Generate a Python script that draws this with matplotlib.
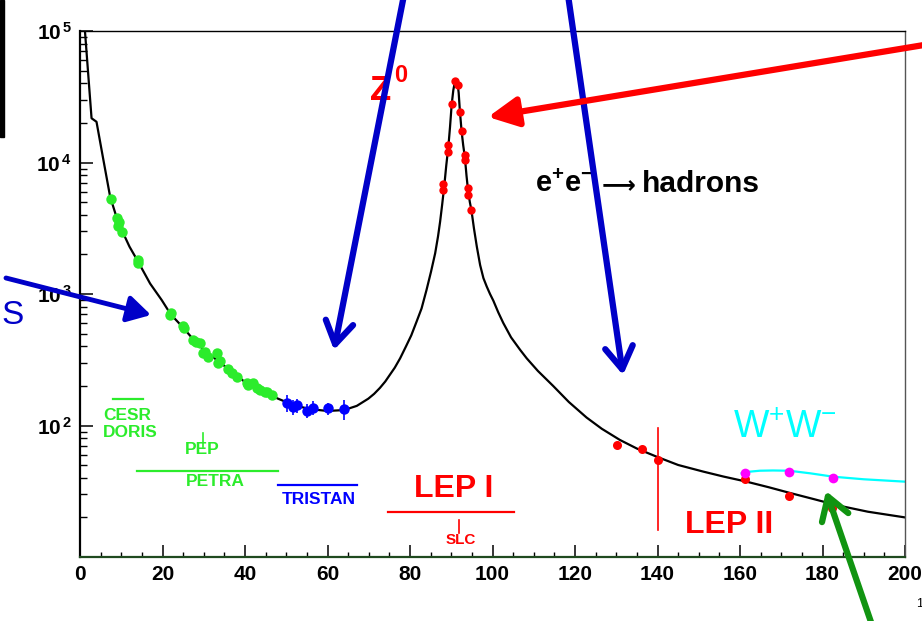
import numpy as np
import matplotlib
matplotlib.use("Agg")
import matplotlib.pyplot as plt
from matplotlib.ticker import FixedLocator, FixedFormatter, MultipleLocator, LogLocator, NullFormatter
from matplotlib.patches import Rectangle, FancyArrowPatch

plt.rcParams['font.family'] = ['Liberation Sans', 'DejaVu Sans']
plt.rcParams['mathtext.fontset'] = 'custom'
plt.rcParams['mathtext.rm'] = 'Liberation Sans'
plt.rcParams['mathtext.bf'] = 'Liberation Sans:bold'
plt.rcParams['mathtext.it'] = 'Liberation Sans:italic'

# theory curve e+e- -> hadrons
curve_x = [1.2, 2.8, 4.0, 5.5, 7.3, 8.9, 10.3, 12.0, 14.0, 17.0, 19.8, 22.0, 24.9, 27.5,
           30.3, 33.5, 36.8, 40.8, 44.8, 48.0, 52.0, 56.0, 60.0, 64.0, 67.1, 69.9, 71.3,
           72.7, 74.0, 75.0, 76.3, 77.6, 79.0, 80.3, 81.6, 82.8, 84.0, 85.1, 86.1, 86.8,
           87.3, 87.8, 88.3, 88.8, 89.3, 89.7, 90.1, 90.5, 90.9, 91.2, 91.5, 91.8, 92.1,
           92.5, 92.9, 93.3, 93.7, 94.1, 94.5, 94.9, 95.5, 96.2, 97.0, 97.8, 98.6, 99.4,
           100.2, 101.4, 102.6, 104.5, 106.7, 108.3, 111.0, 114.7, 118.5, 122.8, 126.5,
           130.9, 135.0, 139.8, 145.0, 151.1, 156.0, 161.6, 167.0, 172.1, 178.0, 183.4,
           191.0, 200.0]
curve_y = [100000, 21700, 20400, 11200, 5500, 3800, 2980, 2290, 1780, 1200, 900, 700, 560,
           450, 370, 309, 257, 204, 178, 160, 142, 133, 129, 131, 141, 160, 174,
           193, 216, 240, 275, 324, 398, 484, 617, 776, 1072, 1480, 2040, 2750,
           3550, 4790, 6610, 9550, 13200, 18600, 27500, 35500, 41200, 42200, 40700, 33900, 24500,
           17400, 13500, 11000, 7940, 6030, 5010, 4320, 3160, 2290, 1660, 1320, 1140, 1000,
           890, 725, 603, 468, 376, 324, 260, 200, 151, 115, 94.4,
           77.6, 66.8, 57.9, 50.1, 44.6, 40.9, 37.4, 33.9, 30.7, 27.5, 24.8,
           22.1, 20.0]

green_x = [7.4, 8.9, 9.5, 9.3, 10.3, 14.0, 14.1, 21.8, 22.0, 24.9, 25.2, 27.5, 28.2, 29.1,
           30.3, 29.9, 31.0, 33.1, 33.5, 34.0, 35.8, 36.8, 38.0, 40.4, 40.8, 42.0, 42.8,
           43.6, 44.8, 45.3, 46.5]
green_y = [5270, 3770, 3550, 3290, 2950, 1815, 1730, 692, 720, 572, 548, 447, 430, 422,
           364, 354, 330, 354, 297, 310, 270, 250, 233, 209, 203, 209, 192, 186, 181, 181, 171]

blue_x = [50.1, 51.7, 52.5, 55.0, 56.6, 60.2, 64.1]
blue_y = [148, 139, 142, 130, 137, 135, 133]
blue_err = [22, 18, 18, 16, 16, 14, 22]

z_x = [90.9, 91.7, 90.1, 92.1, 92.5, 89.3, 89.1, 93.3, 93.3, 88.1, 88.1, 94.1, 94.1, 94.9]
z_y = [41900, 38800, 27700, 24100, 17400, 13600, 12100, 11400, 10400, 6870, 6170, 6370,
       5660, 4350]

lep2_x = [130.1, 136.2, 140.0, 161.2, 171.9, 182.2]
lep2_y = [71, 66, 55, 39, 29, 23.4]

ww_x = [161.2, 171.9, 182.6]
ww_y = [43.8, 44.6, 39.6]
ww_curve_x = [160.4, 162.5, 164.8, 168.0, 171.9, 177.0, 182.6, 190.0, 200.0]
ww_curve_y = [43.3, 44.6, 45.3, 45.5, 45.3, 43.3, 40.8, 39.0, 37.4]

ytick_vals = [1e2, 1e3, 1e4, 1e5]
ytick_labels = [r'$\mathbf{10^{\,2}}$', r'$\mathbf{10^{\,3}}$', r'$\mathbf{10^{\,4}}$', r'$\mathbf{10^{\,5}}$']

W, H = 922, 621
fig = plt.figure(figsize=(W / 100, H / 100), dpi=100)
ax = fig.add_axes([80 / W, 64 / H, 825 / W, 526 / H])

ax.plot(curve_x, curve_y, color='black', lw=1.6, zorder=2)
ax.plot(green_x, green_y, 'o', color='#2cec2c', ms=7.5, mew=0, zorder=3)
ax.errorbar(blue_x, blue_y, yerr=blue_err, fmt='o', color='#0000ff', ms=7.5, mew=0,
            elinewidth=1.2, capsize=0, zorder=3)
ax.plot(z_x, z_y, 'o', color='#ff0000', ms=6, mew=0, zorder=3)
ax.plot(lep2_x, lep2_y, 'o', color='#ff0000', ms=6.5, mew=0, zorder=3)
ax.plot(ww_curve_x, ww_curve_y, color='#00ffff', lw=1.6, zorder=2)
ax.plot(ww_x, ww_y, 'o', color='#ff00ff', ms=7, mew=0, zorder=3)

ax.set_xlim(0, 200)
ax.set_yscale('log')
ax.set_ylim(10, 1e5)

ax.xaxis.set_major_locator(MultipleLocator(20))
ax.xaxis.set_minor_locator(MultipleLocator(5))
ax.yaxis.set_major_locator(FixedLocator(ytick_vals))
ax.yaxis.set_major_formatter(FixedFormatter(ytick_labels))
ax.yaxis.set_minor_locator(LogLocator(base=10, subs=range(2, 10)))
ax.yaxis.set_minor_formatter(NullFormatter())

ax.tick_params(axis='x', which='major', direction='in', length=8.5, width=1.1, pad=6,
               labelsize=15, top=False)
ax.tick_params(axis='x', which='minor', direction='in', length=3.6, width=1.0, top=False)
ax.tick_params(axis='y', which='major', direction='in', length=9.5, width=1.1, pad=6,
               labelsize=15, right=False)
ax.tick_params(axis='y', which='minor', direction='in', length=5, width=1.0, right=False)
for lbl in ax.get_xticklabels():
    lbl.set_fontweight('bold')

ax.spines['left'].set_linewidth(1.6)
ax.spines['bottom'].set_linewidth(1.6)
ax.spines['bottom'].set_color('#1f4a1f')
ax.spines['top'].set_linewidth(1.0)
ax.spines['right'].set_linewidth(1.0)
ax.spines['right'].set_color('#555555')

# experiment labels
green = '#2cec2c'
red = '#ff0000'
ax.plot([8.0, 15.2], [158, 158], color=green, lw=1.6)
ax.text(11.4, 120, 'CESR', color=green, fontsize=12.5, fontweight='bold', ha='center', va='center')
ax.text(12.1, 87.7, 'DORIS', color=green, fontsize=12.5, fontweight='bold', ha='center', va='center')
ax.plot([29.9, 29.9], [87.7, 68.7], color=green, lw=1.2)
ax.text(29.6, 66.2, 'PEP', color=green, fontsize=12.5, fontweight='bold', ha='center', va='center')
ax.plot([13.7, 48.1], [45.3, 45.3], color=green, lw=1.6)
ax.text(32.7, 37.4, 'PETRA', color=green, fontsize=12.5, fontweight='bold', ha='center', va='center')
ax.plot([47.9, 67.2], [35.3, 35.3], color='#0000ff', lw=1.6)
ax.text(57.8, 27.6, 'TRISTAN', color='#0000ff', fontsize=12.5, fontweight='bold', ha='center', va='center')
ax.plot([74.7, 105.3], [21.9, 21.9], color=red, lw=1.6)
ax.text(90.5, 32.9, 'LEP I', color=red, fontsize=23, fontweight='bold', ha='center', va='center')
ax.plot([91.9, 91.9], [19.1, 15.2], color=red, lw=1.2)
ax.text(92.4, 13.5, 'SLC', color=red, fontsize=11, fontweight='bold', ha='center', va='center')
ax.plot([140.2, 140.2], [95.5, 16], color=red, lw=1.2)
ax.text(157.3, 17.5, 'LEP II', color=red, fontsize=23, fontweight='bold', ha='center', va='center')
ax.text(170.9, 95.7, r'W$^{+}$W$^{-}$', color='#00ffff', fontsize=27, ha='center', va='center')
ax.text(70.3, 29850, 'Z', color=red, fontsize=25, fontweight='bold', ha='left', va='baseline')
ax.text(76.1, 41000, '0', color=red, fontsize=17, fontweight='bold', ha='left', va='baseline')
# e+e- -> hadrons, written in three pieces so the arrow can be long
ax.text(110.3, 6000, r'$\mathbf{e^{+}e^{-}}$', color='black',
        fontsize=21, ha='left', va='baseline')
ax.text(126.4, 6000, '⟶', color='black', family='DejaVu Sans',
        fontsize=17, fontweight='bold', ha='left', va='baseline')
ax.text(136.2, 6000, 'hadrons', color='black',
        fontsize=21.5, fontweight='bold', ha='left', va='baseline')


def fp(x, y):
    # picture pixel (from top-left) -> figure fraction
    return (x / W, 1 - y / H)


def arrow(start, tip, color, style, lw, hl, hw):
    a = FancyArrowPatch(fp(*start), fp(*tip), transform=fig.transFigure,
                        arrowstyle=f'{style},head_length={hl},head_width={hw}',
                        mutation_scale=20, color=color, lw=lw, clip_on=False,
                        shrinkA=0, shrinkB=0, zorder=10)
    fig.add_artist(a)


arrow((404, -5), (334, 350), '#0000c8', '->', 4.5, 0.8, 0.5)
arrow((568, -5), (623, 375), '#0000c8', '->', 4.5, 0.8, 0.5)
arrow((6, 278), (151, 315), '#0000c8', '-|>', 3.5, 0.7, 0.4)
arrow((930, 44), (488, 117), '#ff0000', '-|>', 4.5, 0.9, 0.45)
arrow((872, 625), (826, 491), '#119411', '->', 4.5, 0.8, 0.5)

fig.add_artist(Rectangle(fp(0, 137), 4 / W, 137 / H, transform=fig.transFigure,
                         color='black', clip_on=False))
fig.text(1 / W, 1 - 316 / H, 'S', color='#0000c8', fontsize=24, va='center', ha='left')
fig.text(916 / W, 1 - 604 / H, '1', color='black', fontsize=9, va='center', ha='left')

fig.savefig('out.png', dpi=100)
